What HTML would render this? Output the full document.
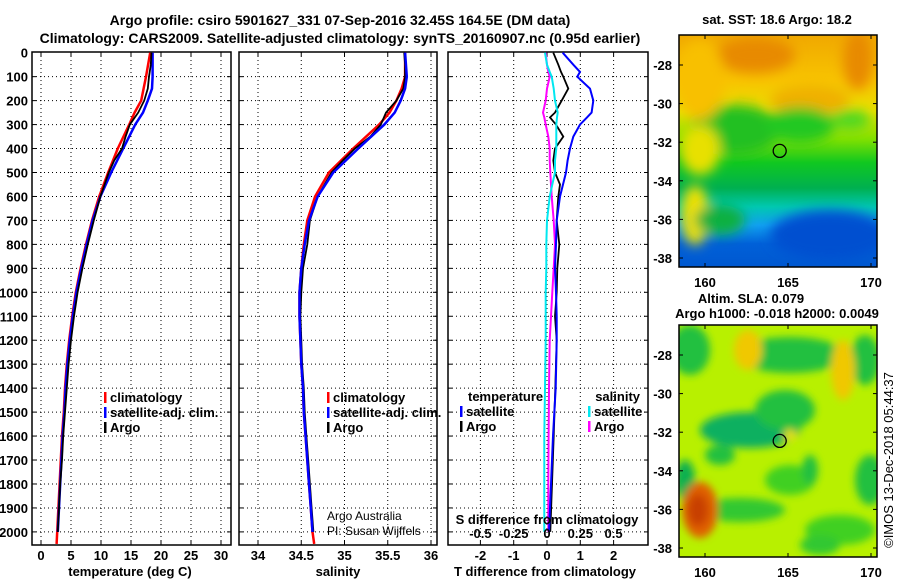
<!DOCTYPE html>
<html><head><meta charset="utf-8"><style>
html,body{margin:0;padding:0;background:#fff;}
svg{display:block;font-family:"Liberation Sans",sans-serif;}
text{font-weight:bold;font-size:13px;fill:#000;}
.sm{font-weight:normal;font-size:12px;}
</style></head><body>
<svg id="fig" width="900" height="580" viewBox="0 0 900 580">
<defs>
<filter id="blur" x="-20%" y="-20%" width="140%" height="140%"><feGaussianBlur stdDeviation="6"/></filter>
<filter id="blur2" x="-20%" y="-20%" width="140%" height="140%"><feGaussianBlur stdDeviation="4"/></filter>
<clipPath id="cm1"><rect x="679" y="35" width="198" height="232"/></clipPath>
<clipPath id="cm2"><rect x="679" y="325" width="198" height="232"/></clipPath>
<linearGradient id="sstg" x1="0" y1="0" x2="0" y2="1">
<stop offset="0" stop-color="#f0a800"/><stop offset="0.2" stop-color="#f8c400"/><stop offset="0.33" stop-color="#e8e000"/>
<stop offset="0.45" stop-color="#80e000"/><stop offset="0.55" stop-color="#10c820"/><stop offset="0.66" stop-color="#00b050"/>
<stop offset="0.74" stop-color="#00c8b0"/><stop offset="0.82" stop-color="#10a0f0"/><stop offset="0.9" stop-color="#0060d8"/><stop offset="1" stop-color="#0058d0"/>
</linearGradient>
</defs>
<text x="340" y="25" text-anchor="middle" style="font-size:14px">Argo profile: csiro 5901627_331 07-Sep-2016 32.45S 164.5E (DM data)</text>
<text x="340" y="43" text-anchor="middle" style="font-size:14px">Climatology: CARS2009. Satellite-adjusted climatology: synTS_20160907.nc (0.95d earlier)</text>
<g id="panels"></g>
<g id="maps"></g>
</svg>
<script>
// ---- data (depth in m) ----
const depthClim = [0,100,150,200,250,300,400,500,600,700,800,900,1000,1100,1200,1300,1400,1500,1600,1700,1800,1900,2000,2050];
const tempClim  = [18.2,17.5,17.1,16.7,15.6,14.7,12.8,11.2,9.7,8.5,7.5,6.6,5.8,5.2,4.7,4.3,4.0,3.8,3.5,3.3,3.1,2.9,2.7,2.6];
const tempSat   = [18.6,18.6,18.5,17.8,17.0,15.7,13.7,11.7,9.9,8.6,7.6,6.7,5.9,5.3,4.8,4.4,4.1,3.9,3.6,3.4,3.2,3.0,2.8,2.7];
const depthArgo = [0,50,100,150,200,250,300,350,400,450,500,600,700,800,900,1000,1100,1200,1300,1400,1500,1600,1700,1800,1900,2000];
const tempArgo  = [18.4,18.3,18.0,17.8,17.2,16.2,14.8,14.1,13.5,12.2,11.3,9.9,8.8,7.8,6.9,6.1,5.5,5.0,4.6,4.3,4.0,3.7,3.5,3.2,3.0,2.8];
const salClim   = [35.70,35.70,35.66,35.60,35.52,35.40,35.10,34.82,34.66,34.57,34.53,34.50,34.48,34.48,34.49,34.50,34.52,34.53,34.55,34.57,34.59,34.61,34.63,34.65];
const salSat    = [35.70,35.72,35.70,35.65,35.58,35.46,35.16,34.87,34.69,34.59,34.54,34.50,34.48,34.48,34.49,34.50,34.52,34.53,34.55,34.57,34.59,34.61,34.63,34.64];
const salArgo   = [35.69,35.70,35.70,35.68,35.60,35.48,35.42,35.30,35.12,34.98,34.85,34.69,34.60,34.57,34.52,34.50,34.49,34.50,34.51,34.53,34.54,34.56,34.58,34.60,34.62,34.64];
const depthDiff = [0,50,80,100,150,200,250,270,300,350,400,450,500,550,600,700,800,900,1000,1100,1200,1400,1600,1800,2000];
const tDiffArgo = [0.19,0.34,0.42,0.49,0.64,0.44,0.24,0.09,0.27,0.49,0.24,0.19,0.24,0.39,0.34,0.29,0.37,0.31,0.29,0.24,0.29,0.25,0.2,0.15,0.1];
const tDiffSat  = [0.47,0.79,0.99,0.91,1.29,1.39,1.34,1.2,0.99,0.79,0.69,0.62,0.57,0.48,0.39,0.29,0.27,0.24,0.27,0.29,0.29,0.26,0.18,0.12,0.06];
const sDiffArgo = [-0.01,0.0,0.01,0.02,0.0,-0.01,-0.03,-0.02,-0.01,0.01,0.02,0.02,0.025,0.03,0.035,0.05,0.06,0.05,0.04,0.03,0.02,0.015,0.012,0.01,0.01];
const sDiffSat  = [-0.015,0.0,0.02,0.035,0.05,0.06,0.08,0.075,0.07,0.07,0.07,0.06,0.06,0.04,0.02,0.0,-0.005,-0.005,-0.01,-0.01,-0.01,-0.015,-0.02,-0.02,-0.02];
const depthTicks = [0,100,200,300,400,500,600,700,800,900,1000,1100,1200,1300,1400,1500,1600,1700,1800,1900,2000];
const tempTicks = [0,5,10,15,20,25,30];
const salTicks = [34,34.5,35,35.5,36];
const salTickLabels = ["34","34.5","35","35.5","36"];
const tdTicks = [-2,-1,0,1,2];
const sdTicks = [-0.5,-0.25,0,0.25,0.5];
const sdTickLabels = ["-0.5","-0.25","0","0.25","0.5"];
const latTicks = [-28,-30,-32,-34,-36,-38];
const lonTicks = [160,165,170];
const floatLon = 164.5, floatLat = -32.45;

const NS="http://www.w3.org/2000/svg";
const P=document.getElementById('panels'), M=document.getElementById('maps');
function mk(tag,attrs,parent){const e=document.createElementNS(NS,tag);for(const k in attrs)e.setAttribute(k,attrs[k]);(parent||P).appendChild(e);return e;}
const yTop=52.7, yScale=0.2396;
const yD=d=>yTop+d*yScale;
const boxTop=52, boxBot=545;
function axis(x0,v0,pxPer){return v=>x0+(v-v0)*pxPer;}
const xT=axis(41,0,6), xS=axis(258,34,86.5), xTD=axis(547,0,33.3), xSD=axis(547,0,133.2);

function panel(name,x1,x2,xticks,xf,labels){
  const g=mk('g',{});
  
  
  depthTicks.forEach(d=>{
    if(d===0)return;
    const l=mk('line',{x1:x1,x2:x2,y1:yD(d),y2:yD(d),stroke:'#000','stroke-width':1,'stroke-dasharray':'1,3'},g);
    
    
    mk('line',{x1:x1,x2:x1+4,y1:yD(d),y2:yD(d),stroke:'#000'},g);
    mk('line',{x1:x2-4,x2:x2,y1:yD(d),y2:yD(d),stroke:'#000'},g);
  });
  xticks.forEach((v,i)=>{
    const x=xf(v);
    const l=mk('line',{x1:x,x2:x,y1:boxTop,y2:boxBot,stroke:'#000','stroke-width':1,'stroke-dasharray':'1,3'},g);
    
    
    mk('line',{x1:x,x2:x,y1:boxBot-4,y2:boxBot,stroke:'#000'},g);
    mk('line',{x1:x,x2:x,y1:boxTop,y2:boxTop+4,stroke:'#000'},g);
    if(labels){const t=mk('text',{x:x,y:560,'text-anchor':'middle'},g);t.textContent=labels[i];
      
      }
  });
  const r=mk('rect',{x:x1,y:boxTop,width:x2-x1,height:boxBot-boxTop,fill:'none',stroke:'#000','stroke-width':1.5},g);
  
  
  return g;
}
function line(g,name,xs,ds,xf,color,w){
  const pts=xs.map((v,i)=>xf(v).toFixed(1)+','+yD(ds[i]).toFixed(1)).join(' ');
  const p=mk('polyline',{points:pts,fill:'none',stroke:color,'stroke-width':w||2},g);
  
  
}
function txt(g,name,x,y,s,anchor,cls){
  const t=mk('text',{x:x,y:y,'text-anchor':anchor||'start'},g);
  if(cls)t.setAttribute('class',cls);
  t.textContent=s;
  
  
  return t;
}
function legend(g,x,y,color,label){
  const l=mk('rect',{x:x,y:y-10,width:2.5,height:11,fill:color},g);
  
  
  txt(g,'legend-entry',x+6,y,label);
}
// panel 1 temperature
const g1=panel('temperature',32,231,tempTicks,xT,tempTicks.map(String));
depthTicks.forEach(d=>txt(g1,'depth-tick-label',28,yD(d)+5,String(d),'end'));
line(g1,'temp-climatology',tempClim,depthClim,xT,'#ff0000',2.5);
line(g1,'temp-satellite',tempSat.slice(0,23),depthClim.slice(0,23),xT,'#0000ff',2.5);
line(g1,'temp-argo',tempArgo,depthArgo,xT,'#000',1.8);
txt(g1,'x-axis-title',130,576,'temperature (deg C)','middle');
legend(g1,104,402,'#ff0000','climatology');
legend(g1,104,417,'#0000ff','satellite-adj. clim.');
legend(g1,104,432,'#000','Argo');
// panel 2 salinity
const g2=panel('salinity',239,437,salTicks,xS,salTickLabels);
line(g2,'sal-climatology',salClim,depthClim,xS,'#ff0000',2.5);
line(g2,'sal-argo',salArgo,depthArgo,xS,'#000',1.8);
line(g2,'sal-satellite',salSat.slice(0,23),depthClim.slice(0,23),xS,'#0000ff',2.5);
txt(g2,'x-axis-title',338,576,'salinity','middle');
legend(g2,327,402,'#ff0000','climatology');
legend(g2,327,417,'#0000ff','satellite-adj. clim.');
legend(g2,327,432,'#000','Argo');
txt(g2,'credit-line-1',327,520,'Argo Australia','start','sm');
txt(g2,'credit-line-2',327,535,'PI: Susan Wijffels','start','sm');
// panel 3 differences
const g3=panel('difference',448,648,tdTicks,xTD,tdTicks.map(String));
line(g3,'sdiff-argo',sDiffArgo,depthDiff,xSD,'#ff00ff',2);
line(g3,'tdiff-argo',tDiffArgo,depthDiff,xTD,'#000',1.8);
line(g3,'tdiff-satellite',tDiffSat,depthDiff,xTD,'#0000ff',2);
line(g3,'sdiff-satellite',sDiffSat,depthDiff,xSD,'#00e8f0',2);
txt(g3,'x-axis-title',545,576,'T difference from climatology','middle');
txt(g3,'s-axis-title',547,524,'S difference from climatology','middle');
sdTicks.forEach((v,i)=>txt(g3,'s-tick-label',xSD(v),538,sdTickLabels[i],'middle'));
txt(g3,'legend-header',468,401,'temperature');
legend(g3,460,416,'#0000ff','satellite');
legend(g3,460,431,'#000','Argo');
txt(g3,'legend-header',640,401,'salinity','end');
legend(g3,588,416,'#00e8f0','satellite');
legend(g3,588,431,'#ff00ff','Argo');

// ---- maps ----
const lonX=lon=>705+(lon-160)*16.6;
function mapAxes(yOff,name){
  const latY=lat=>yOff+30+(-28-lat)*19.3;
  const g=mk('g',{},M);
  
  
  latTicks.forEach(l=>{txt(g,'lat-tick-label',672,latY(l)+5,String(l),'end');
    mk('line',{x1:679,x2:683,y1:latY(l),y2:latY(l),stroke:'#000'},g);
    mk('line',{x1:873,x2:877,y1:latY(l),y2:latY(l),stroke:'#000'},g);});
  lonTicks.forEach(l=>{txt(g,'lon-tick-label',lonX(l),yOff+252,String(l),'middle');
    mk('line',{x1:lonX(l),x2:lonX(l),y1:yOff,y2:yOff+4,stroke:'#000'},g);
    mk('line',{x1:lonX(l),x2:lonX(l),y1:yOff+228,y2:yOff+232,stroke:'#000'},g);});
  const c=mk('circle',{cx:lonX(floatLon),cy:latY(floatLat),r:6.5,fill:'none',stroke:'#000','stroke-width':1.3},g);
  
  
  const r=mk('rect',{x:679,y:yOff,width:198,height:232,fill:'none',stroke:'#000','stroke-width':1.5},g);
  
  
}
// SST map
const m1=mk('g',{'clip-path':'url(#cm1)'},M);


mk('rect',{x:679,y:35,width:198,height:232,fill:'url(#sstg)'},m1);
const b1=mk('g',{filter:'url(#blur)'},m1);
[['#e88a00',755,55,40,18],['#e88a00',858,60,15,30],['#f0b000',810,100,40,15],['#20c020',735,130,45,25],['#20c820',800,125,35,18],
 ['#e8e000',700,150,20,25],['#f0e000',695,215,14,30],['#10b040',720,220,25,15],['#0050d0',830,235,60,25],['#f8c000',700,80,25,40],
 ['#50d820',850,120,20,10]]
 .forEach(a=>mk('ellipse',{cx:a[1],cy:a[2],rx:a[3],ry:a[4],fill:a[0]},b1));
mapAxes(35,'sst-map');
txt(M,'sst-map-title',777,24,'sat. SST: 18.6 Argo: 18.2','middle');
// SLA map
const m2=mk('g',{'clip-path':'url(#cm2)'},M);


mk('rect',{x:679,y:325,width:198,height:232,fill:'#b8f000'},m2);
const b2=mk('g',{filter:'url(#blur2)'},m2);
[['#20c040',690,350,20,25],['#20c040',790,355,55,18],['#20c040',865,360,15,25],['#10b060',750,430,50,18],['#20c040',785,410,30,20],
 ['#20c040',870,480,15,25],['#10b050',685,480,10,20],['#40d020',790,480,25,15],['#30c830',740,510,45,12],['#40d020',840,530,35,15],
 ['#f0c800',748,350,14,20],['#f0c800',843,370,12,30],['#e06000',700,510,18,28],['#c84000',698,510,10,16],['#e8e000',790,435,6,6],['#20c040',810,470,8,15],
 ['#20c040',720,455,15,10],['#30c830',820,545,20,10]]
 .forEach(a=>mk('ellipse',{cx:a[1],cy:a[2],rx:a[3],ry:a[4],fill:a[0]},b2));
mapAxes(325,'sla-map');
txt(M,'sla-map-title-1',751,303,'Altim. SLA: 0.079','middle');
txt(M,'sla-map-title-2',777,318,'Argo h1000: -0.018 h2000: 0.0049','middle');
const cp=txt(M,'timestamp',0,0,'©IMOS 13-Dec-2018 05:44:37','middle','sm');
cp.setAttribute('transform','translate(893,460) rotate(-90)');
cp.setAttribute('style','font-size:13px');
</script>
</body></html>
